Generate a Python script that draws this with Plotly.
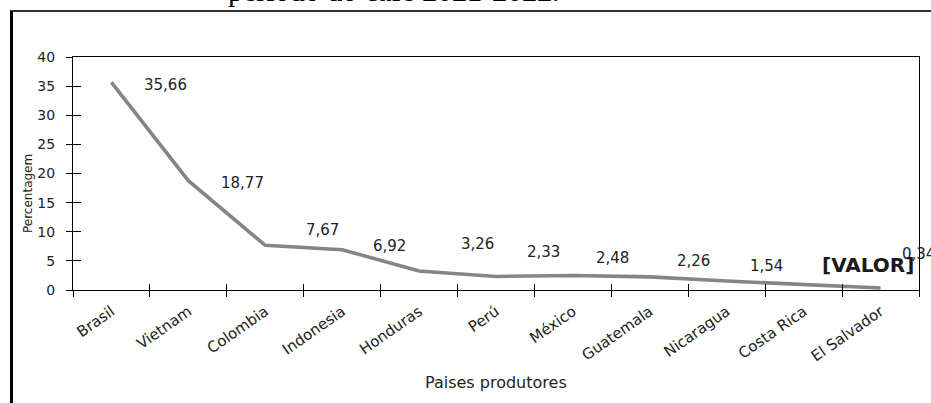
import plotly.graph_objects as go

# Participação dos principais países produtores de café (%)
paises = ["Brasil", "Vietnam", "Colombia", "Indonesia", "Honduras", "Perú",
          "México", "Guatemala", "Nicaragua", "Costa Rica", "El Salvador"]
percentagem = [35.66, 18.77, 7.67, 6.92, 3.26, 2.33, 2.48, 2.26, 1.54, 0.9, 0.34]
# rótulo de dado que ficou como campo não preenchido
rotulo_campo = {"Costa Rica": "[VALOR]"}

y_ticks = list(range(0, 45, 5))

W, H = 931, 403
ML, MR, MT, MB = 73, 12, 57, 113
PW, PH = W - ML - MR, H - MT - MB


def px_x(p):
    return (p - ML) / PW


def px_y(p):
    return (MT + PH - p) / PH


fig = go.Figure()

fig.add_trace(go.Scatter(
    x=paises, y=percentagem, mode="lines",
    line=dict(color="#858585", width=3.6),
    hoverinfo="skip", showlegend=False,
))
# copy on the overlay axes so their inside ticks are drawn
fig.add_trace(go.Scatter(
    x=paises, y=percentagem, mode="lines", xaxis="x2", yaxis="y2",
    line=dict(color="rgba(0,0,0,0)", width=0),
    hoverinfo="skip", showlegend=False,
))

# data labels, placed up/right of each point
offsets = [(54, -3), (54, -2), (57, 15), (47, 4), (58, 27), (47, 24),
           (40, 18), (44, 16), (40, 15), (64, 20), (38, 34)]
order = list(range(len(paises)))
order.remove(paises.index("Costa Rica"))
order.append(paises.index("Costa Rica"))
for i in order:
    nome, v = paises[i], percentagem[i]
    dx, dy = offsets[i]
    if nome in rotulo_campo:
        txt = "<b>" + rotulo_campo[nome] + "</b>"
        fnt = dict(family="DejaVu Sans", size=20, color="#1a1a1a")
    else:
        txt = f"{v:.2f}".replace(".", ",")
        fnt = dict(family="DejaVu Sans", size=15, color="#222222")
    fig.add_annotation(x=nome, y=v, xref="x", yref="y", text=txt,
                       showarrow=False, xshift=dx, yshift=dy, font=fnt,
                       xanchor="center", yanchor="middle")

# axis titles
fig.add_annotation(text="Percentagem", textangle=-90, showarrow=False,
                   xref="paper", yref="paper", x=px_x(28), y=px_y(194),
                   xanchor="center", yanchor="middle",
                   font=dict(family="DejaVu Sans", size=12, color="#222222"))
fig.add_annotation(text="Paises produtores", showarrow=False,
                   xref="paper", yref="paper", x=px_x(496), y=px_y(382),
                   xanchor="center", yanchor="middle",
                   font=dict(family="DejaVu Sans", size=16, color="#222222"))

# caption above the chart frame
fig.add_annotation(text="período do café <b>2021-2022.</b>", showarrow=False,
                   xref="paper", yref="paper", x=px_x(226), y=px_y(9),
                   xanchor="left", yanchor="bottom",
                   font=dict(family="Liberation Serif", size=30, color="#000000"))

# outer frame of the figure
fig.add_shape(type="line", xref="paper", yref="paper",
              x0=px_x(10), x1=px_x(931), y0=px_y(11), y1=px_y(11),
              line=dict(color="#333333", width=2))
fig.add_shape(type="line", xref="paper", yref="paper",
              x0=px_x(11.5), x1=px_x(11.5), y0=px_y(11), y1=px_y(403),
              line=dict(color="#000000", width=3))

axis_font = dict(family="DejaVu Sans", size=14, color="#222222")
fig.update_layout(
    width=W, height=H,
    margin=dict(l=ML, r=MR, t=MT, b=MB, pad=0),
    paper_bgcolor="white", plot_bgcolor="white",
    showlegend=False,
    xaxis=dict(
        type="category", categoryorder="array", categoryarray=paises,
        range=[-0.5, len(paises) - 0.5], tickson="boundaries",
        ticks="outside", ticklen=6, tickcolor="#000000", tickwidth=1,
        tickangle=-35, ticklabelstandoff=6,
        showline=True, linecolor="#000000", linewidth=1,
        mirror=True, showgrid=False, zeroline=False,
        tickfont=dict(family="DejaVu Sans", size=15, color="#222222"),
    ),
    yaxis=dict(
        range=[0, 40], tickvals=y_ticks, ticks="outside", ticklen=6,
        tickcolor="#000000", tickwidth=1, ticklabelstandoff=8,
        showline=True, linecolor="#000000", linewidth=1, mirror=True,
        showgrid=False, zeroline=False, tickfont=axis_font,
    ),
    xaxis2=dict(
        type="category", categoryorder="array", categoryarray=paises,
        range=[-0.5, len(paises) - 0.5], tickson="boundaries",
        overlaying="x", anchor="y2", side="bottom",
        ticks="inside", ticklen=6, tickcolor="#000000", tickwidth=1,
        showticklabels=False, showline=False, showgrid=False, zeroline=False,
    ),
    yaxis2=dict(
        range=[0, 40], tickvals=y_ticks, overlaying="y", anchor="x2",
        side="left", ticks="inside", ticklen=8, tickcolor="#000000",
        tickwidth=1, showticklabels=False, showline=False, showgrid=False,
        zeroline=False,
    ),
)

fig.write_html("out.html")
